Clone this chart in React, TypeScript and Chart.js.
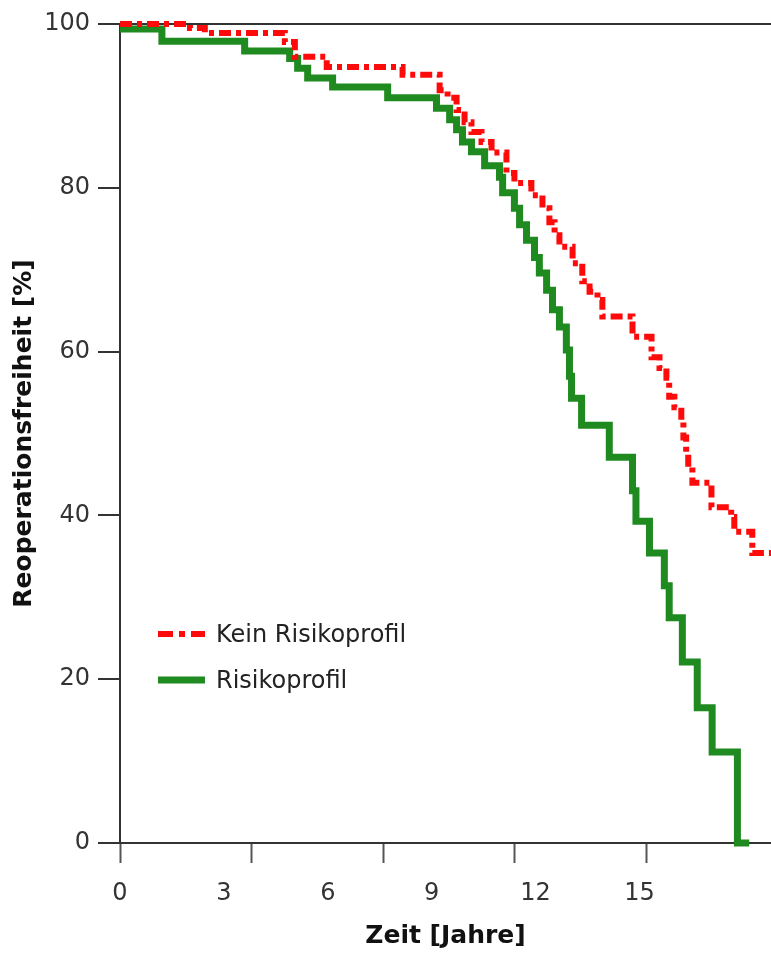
import React, { useEffect, useRef } from "react";
import { Chart, registerables } from "chart.js";

Chart.register(...registerables);

// ---- data (Kaplan-Meier step curves) ----
const seriesLabels = ["Kein Risikoprofil", "Risikoprofil"];

const keinTimes = [0, 2.02, 2.45, 4.76, 5.05, 5.97, 8.16, 9.23, 9.46, 9.72, 9.95, 10.15, 10.44, 10.73, 11.16, 11.39, 11.88, 12.2, 12.4, 12.55, 12.69, 13.07, 13.35, 13.56, 13.79, 13.93, 14.8, 15.35, 15.58, 15.78, 15.86, 16.01, 16.21, 16.27, 16.35, 16.41, 16.53, 17.08, 17.65, 17.74, 18.26, 18.8];
const keinValues = [100, 99.5, 98.9, 97.8, 96.0, 94.75, 93.8, 91.9, 91.0, 89.5, 88.0, 86.8, 85.6, 84.3, 81.8, 80.6, 79.1, 77.5, 75.8, 74.2, 72.8, 70.8, 68.6, 67.3, 66.3, 64.3, 61.8, 59.3, 58.0, 56.8, 54.5, 53.2, 51.6, 49.5, 47.6, 45.9, 44.0, 41.0, 39.8, 38.0, 35.4, 35.4];

const risikoTimes = [0, 1.21, 3.6, 4.9, 5.13, 5.42, 6.14, 7.73, 9.14, 9.52, 9.72, 9.89, 10.15, 10.53, 10.96, 11.05, 11.39, 11.54, 11.74, 11.97, 12.11, 12.32, 12.49, 12.69, 12.89, 12.98, 13.04, 13.33, 14.13, 14.8, 14.9, 15.29, 15.72, 15.86, 16.24, 16.67, 17.1, 17.83, 18.17];
const risikoValues = [99.4, 97.9, 96.7, 95.8, 94.6, 93.4, 92.3, 91.0, 89.7, 88.3, 87.1, 85.6, 84.4, 82.7, 81.3, 79.4, 77.5, 75.5, 73.6, 71.5, 69.6, 67.5, 65.1, 63.0, 60.2, 57.0, 54.3, 51.0, 47.1, 43.0, 39.3, 35.4, 31.4, 27.5, 22.1, 16.5, 11.1, 0, 0];

const xTickValues = [0, 3, 6, 9, 12, 15];
const xTickLabels = ["0", "3", "6", "9", "12", "15"];
const yTickValues = [0, 20, 40, 60, 80, 100];
const yTickLabels = ["0", "20", "40", "60", "80", "100"];

const xTitle = "Zeit [Jahre]";
const yTitle = "Reoperationsfreiheit [%]";

const RED = "#ff0a0a";
const GREEN = "#1f8a1f";
const RED_DASH = [12, 5, 5, 5];

const FONT = "'DejaVu Sans', sans-serif";

const legendPlugin = {
  id: "kmLegend",
  afterDraw(chart: any) {
    const { ctx, chartArea } = chart;
    const x0 = chartArea.left + 38;
    const x1 = chartArea.left + 85;
    const tx = chartArea.left + 96;
    const rowsY = [chartArea.top + 610, chartArea.top + 656];
    ctx.save();
    chart.data.datasets.forEach((ds: any, i: number) => {
      const y = rowsY[i];
      ctx.beginPath();
      ctx.strokeStyle = ds.borderColor;
      ctx.lineWidth = ds.borderWidth;
      ctx.lineCap = "butt";
      ctx.setLineDash(i === 0 ? [15, 6, 6, 6] : []);
      ctx.moveTo(x0, y);
      ctx.lineTo(x1, y);
      ctx.stroke();
      ctx.setLineDash([]);
      ctx.fillStyle = "#222";
      ctx.font = `24px ${FONT}`;
      ctx.textBaseline = "middle";
      ctx.textAlign = "left";
      ctx.fillText(ds.label, tx, y + 2);
    });
    ctx.restore();
  },
};

export default function App() {
  const canvasRef = useRef<HTMLCanvasElement | null>(null);

  useEffect(() => {
    document.body.style.margin = "0";
    const canvas = canvasRef.current;
    if (!canvas) return;
    const chart = new Chart(canvas, {
      type: "line",
      data: {
        datasets: [
          {
            label: seriesLabels[0],
            data: keinTimes.map((t, i) => ({ x: t, y: keinValues[i] })),
            borderColor: RED,
            borderWidth: 6,
            borderDash: RED_DASH,
            stepped: "before",
            pointRadius: 0,
            fill: false,
            xAxisID: "x",
            yAxisID: "y",
            clip: false,
          },
          {
            label: seriesLabels[1],
            data: risikoTimes.map((t, i) => ({ x: t, y: risikoValues[i] })),
            borderColor: GREEN,
            borderWidth: 7,
            stepped: "before",
            pointRadius: 0,
            fill: false,
            xAxisID: "x",
            yAxisID: "y",
            clip: false,
          },
        ],
      },
      options: {
        responsive: false,
        animation: false,
        layout: { padding: { top: 24, left: 0, right: 0, bottom: 0 } },
        plugins: {
          legend: { display: false },
          tooltip: { enabled: false },
        },
        scales: {
          x2: {
            type: "linear",
            position: "bottom",
            weight: 0,
            min: 0,
            max: 14.85,
            ticks: { display: false, stepSize: 3, includeBounds: false },
            grid: {
              drawOnChartArea: false,
              drawTicks: true,
              tickLength: 20,
              tickColor: "#555",
              tickWidth: 2,
            },
            border: { display: true, color: "#333", width: 2 },
            afterFit: (s: any) => {
              s.height = 20;
            },
          },
          x: {
            type: "linear",
            position: "bottom",
            weight: 10,
            min: 0,
            max: 18.8,
            grid: { display: false },
            border: { display: false },
            afterBuildTicks: (s: any) => {
              s.ticks = xTickValues.map((v) => ({ value: v }));
            },
            ticks: {
              autoSkip: false,
              maxRotation: 0,
              padding: 8,
              color: "#333",
              font: { family: FONT, size: 24 },
              callback: (_v: any, i: number) => xTickLabels[i],
            },
            title: {
              display: true,
              text: xTitle,
              color: "#111",
              font: { family: FONT, size: 25, weight: "bold" },
              padding: { top: 0, bottom: 7 },
            },
            afterFit: (s: any) => {
              s.height = 95;
            },
          },
          y: {
            type: "linear",
            position: "left",
            min: 0,
            max: 100,
            afterBuildTicks: (s: any) => {
              s.ticks = yTickValues.map((v) => ({ value: v }));
            },
            ticks: {
              padding: 8,
              color: "#333",
              font: { family: FONT, size: 24 },
              callback: (_v: any, i: number) => yTickLabels[i],
            },
            grid: {
              drawTicks: true,
              tickLength: 22,
              tickColor: "#333",
              tickWidth: 2,
              lineWidth: 2,
              color: (c: any) => (c.tick && c.tick.value === 100 ? "#333" : "rgba(0,0,0,0)"),
            },
            border: { display: true, color: "#333", width: 2 },
            title: {
              display: true,
              text: yTitle,
              color: "#111",
              font: { family: FONT, size: 25, weight: "bold" },
              padding: { top: 9, bottom: 0 },
            },
            afterFit: (s: any) => {
              s.width = 120;
            },
          },
        },
      },
      plugins: [legendPlugin],
    });
    return () => chart.destroy();
  }, []);

  return (
    <div style={{ position: "absolute", left: 0, top: 0, width: 771, height: 958, background: "#fff" }}>
      <canvas ref={canvasRef} width={771} height={958} style={{ width: 771, height: 958, display: "block" }} />
    </div>
  );
}
